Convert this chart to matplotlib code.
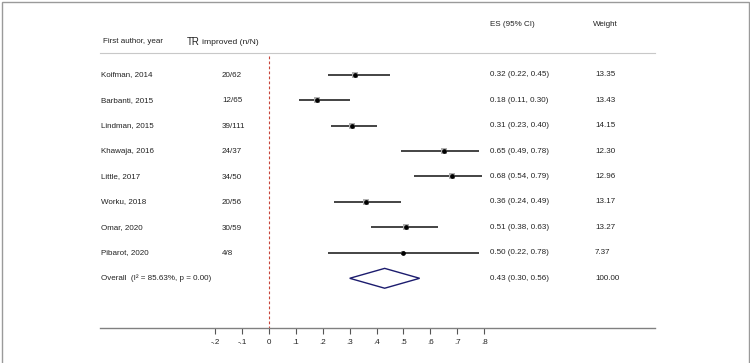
import numpy as np
import matplotlib
matplotlib.use('Agg')
from matplotlib import pyplot as plt
from matplotlib.patches import Polygon, Rectangle

plt.rcParams['font.family'] = ['Liberation Sans', 'DejaVu Sans']

studies = ['Koifman, 2014', 'Barbanti, 2015', 'Lindman, 2015', 'Khawaja, 2016',
           'Little, 2017', 'Worku, 2018', 'Omar, 2020', 'Pibarot, 2020']
events = ['20/62', '12/65', '39/111', '24/37', '34/50', '20/56', '30/59', '4/8']
es = [0.32, 0.18, 0.31, 0.65, 0.68, 0.36, 0.51, 0.50]
lo = [0.22, 0.11, 0.23, 0.49, 0.54, 0.24, 0.38, 0.22]
hi = [0.45, 0.30, 0.40, 0.78, 0.79, 0.49, 0.63, 0.78]
weights = [13.35, 13.43, 14.15, 12.30, 12.96, 13.17, 13.27, 7.37]

overall_label = 'Overall  (I\u00b2 = 85.63%, p = 0.00)'
overall_es, overall_lo, overall_hi = 0.43, 0.30, 0.56
overall_weight = 100.00

xticks = [-0.2, -0.1, 0, 0.1, 0.2, 0.3, 0.4, 0.5, 0.6, 0.7, 0.8]
xticklabels = ['-.2', '-.1', '0', '.1', '.2', '.3', '.4', '.5', '.6', '.7', '.8']

W, H = 750, 363
fig = plt.figure(figsize=(W / 100, H / 100), dpi=100)
fig.patch.set_facecolor('white')
# grey frame round the picture (left, top, right)
fig.add_artist(Rectangle((1.5 / W, -0.05), 747 / W, 1.05 - 1.5 / H, transform=fig.transFigure,
                         fill=False, edgecolor='#9a9a9a', lw=1.0))

# axes placed so that the bottom spine is the plot's x axis
ax = fig.add_axes([100 / W, (H - 328) / H, 555 / W, 328 / H])
ax.set_xlim(-0.6283, 1.435)
ax.set_ylim(9.953, -2.935)
ax.patch.set_alpha(0)
for s in ['top', 'left', 'right']:
    ax.spines[s].set_visible(False)
ax.spines['bottom'].set_color('#808080')
ax.spines['bottom'].set_linewidth(1.0)
ax.set_yticks([])
ax.set_xticks(xticks)
ax.set_xticklabels(xticklabels, fontsize=5.8, color='#222222')
ax.tick_params(axis='x', direction='out', length=4.0, width=0.8, color='#555555', pad=3.6)

fs = 5.8
txt_col = '#222222'
x_label = (101 - 269) / 269
x_events = (222 - 269) / 269
x_es = (490 - 269) / 269
x_w = (595 - 269) / 269

# header
ax.text(x_label + 0.006, -1.285, 'First author, year', fontsize=fs, va='center', color=txt_col)
ax.text((187 - 269) / 269, -1.285, 'TR', fontsize=7, va='center', color=txt_col)
ax.text((202 - 269) / 269, -1.255, 'improved (n/N)', fontsize=6.1, va='center', color=txt_col)
ax.text(x_es, -1.99, 'ES (95% CI)', fontsize=fs, va='center', color=txt_col)
ax.text(x_w - 0.007, -1.99, 'Weight', fontsize=fs, va='center', color=txt_col)
ax.plot([-0.6283, 1.435], [-0.853, -0.853], color='#c8c8c8', lw=0.8, clip_on=False)

# null line
ax.plot([0, 0], [-0.74, 9.953], color='#c8453a', lw=0.8, ls=(0, (2.5, 2)), zorder=1)

rows = np.arange(len(studies))
for i in rows:
    ax.plot([lo[i], hi[i]], [i, i], color='#1a1a1a', lw=1.15, zorder=2, solid_capstyle='butt')
    side = 6.7 * np.sqrt(weights[i] / 13.35) / 1.389
    ax.scatter([es[i]], [i], marker='s', s=side ** 2, color='#b0b0b0', lw=0, zorder=3)
    ax.plot([es[i]], [i], 'o', color='black', ms=2.4, zorder=4)
    ax.text(x_label, i, studies[i], fontsize=fs, va='center', color=txt_col)
    ax.text(x_events, i + 0.03, events[i], fontsize=fs, va='center', color=txt_col)
    ax.text(x_es, i, '%.2f (%.2f, %.2f)' % (es[i], lo[i], hi[i]), fontsize=fs, va='center', color=txt_col)
    ax.text(x_w, i, '%.2f' % weights[i], fontsize=fs, va='center', color=txt_col)

# overall diamond row
ov = len(studies)
half = 0.39
ax.add_patch(Polygon([[overall_lo, ov], [overall_es, ov - half], [overall_hi, ov], [overall_es, ov + half]],
                     closed=True, fill=False, edgecolor='#1c1c6e', lw=1.0, zorder=3))
ax.text(x_label, ov, overall_label, fontsize=fs, va='center', color=txt_col)
ax.text(x_es, ov, '%.2f (%.2f, %.2f)' % (overall_es, overall_lo, overall_hi), fontsize=fs,
        va='center', color=txt_col)
ax.text(x_w, ov, '%.2f' % overall_weight, fontsize=fs, va='center', color=txt_col)

fig.savefig('out.png', dpi=100)
